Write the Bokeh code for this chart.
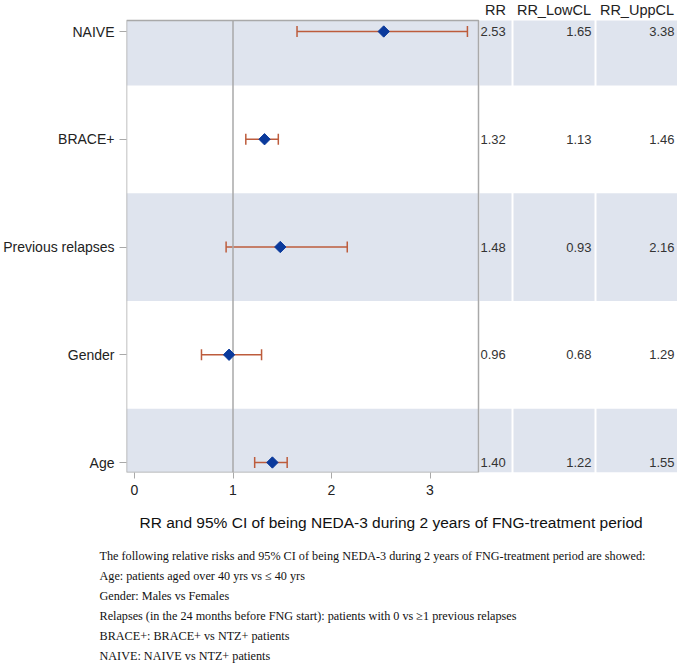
import math
from bokeh.plotting import figure
from bokeh.models import Range1d, FixedTicker, ColumnDataSource, Whisker, TeeHead, Title
from bokeh.core.properties import value
from bokeh.embed import file_html
from bokeh.resources import INLINE

# ---------------- data ----------------
categories = ["NAIVE", "BRACE+", "Previous relapses", "Gender", "Age"]
rr = [2.53, 1.32, 1.48, 0.96, 1.40]
rr_low = [1.65, 1.13, 0.93, 0.68, 1.22]
rr_upp = [3.38, 1.46, 2.16, 1.29, 1.55]
x_ticks = [0, 1, 2, 3]
ref_value = 1
table_headers = ["RR", "RR_LowCL", "RR_UppCL"]
axis_title = "RR and 95% CI of being NEDA-3 during 2 years of FNG-treatment period"
footnotes = [
    "The following relative risks and 95% CI of being NEDA-3 during 2 years of FNG-treatment period are showed:",
    "Age: patients aged over 40 yrs vs \u2264 40 yrs",
    "Gender: Males vs Females",
    "Relapses (in the 24 months before FNG start): patients with 0 vs \u22651 previous relapses",
    "BRACE+: BRACE+ vs NTZ+ patients",
    "NAIVE: NAIVE vs NTZ+ patients",
]

# ---------------- layout helpers (page px -> data) ----------------
W = 677
H = 664
FRAME_L = 126
FRAME_B = 472
X0_PX, X_SCALE = 134.0, 98.5     # page px of x=0, px per unit
Y0_PX, Y_SCALE = 462.0, 107.75   # page px of bottom row, px per row


def xd(px):
    return (px - X0_PX) / X_SCALE


def yd(py):
    return (Y0_PX - py) / Y_SCALE


n = len(categories)
ys = [n - 1 - i for i in range(n)]

BAND = "#dfe4ee"
GRAY = "#a9a9a9"
ERR = "#bd5c3c"
MARK = "#0b3a9c"
SANS = "Liberation Sans"
SERIF = "Liberation Serif"

p = figure(width=W, height=H, output_backend="svg", toolbar_location=None,
           x_range=Range1d(xd(FRAME_L), xd(W)), y_range=Range1d(yd(FRAME_B), yd(0)),
           min_border_left=FRAME_L, min_border_right=0, min_border_top=0,
           min_border_bottom=H - FRAME_B)
p.outline_line_color = None
p.xgrid.visible = False
p.ygrid.visible = False
p.background_fill_color = "white"
p.border_fill_color = "white"

plot_l, plot_r = xd(FRAME_L), xd(478)
plot_b, plot_t = yd(FRAME_B), yd(20)

# bands (alternate rows) in plot region and table columns
col_edges = [(xd(479), xd(511)), (xd(513), xd(594)), (xd(596), xd(677))]
bl, br, bb, bt = [], [], [], []
for i, y in enumerate(ys):
    if i % 2 == 0:
        b = max(y - 0.5, plot_b)
        t = min(y + 0.5, plot_t)
        for (l, r) in [(plot_l, plot_r)] + col_edges:
            bl.append(l); br.append(r); bb.append(b); bt.append(t)
bands = p.quad(left=bl, right=br, bottom=bb, top=bt, fill_color=BAND, line_color=None)
bands.level = "image"

# reference line
p.segment(x0=[ref_value], y0=[plot_b], x1=[ref_value], y1=[plot_t], line_color=GRAY, line_width=1.5)

# frame border of plot region
p.quad(left=[plot_l], right=[plot_r], bottom=[plot_b], top=[plot_t],
       fill_color=None, line_color=GRAY, line_width=1.5)

src = ColumnDataSource(dict(y=ys, rr=rr, low=rr_low, upp=rr_upp,
                            rr_t=[f"{v:.2f}" for v in rr],
                            low_t=[f"{v:.2f}" for v in rr_low],
                            upp_t=[f"{v:.2f}" for v in rr_upp]))

wh = Whisker(source=src, base="y", lower="low", upper="upp", dimension="width",
             line_color=ERR, line_width=1.5,
             lower_head=TeeHead(size=11, line_color=ERR, line_width=1.5),
             upper_head=TeeHead(size=11, line_color=ERR, line_width=1.5))
wh.level = "underlay"
p.add_layout(wh)

p.scatter(x="rr", y="y", source=src, marker="square", angle=math.pi / 4, size=8,
          fill_color=MARK, line_color=MARK)

# table values
tfont = dict(text_font=value(SANS), text_font_size="13px", text_color="#333333",
             text_baseline="middle")
p.text(x=xd(480), y="y", text="rr_t", source=src, text_align="left", **tfont)
p.text(x=xd(591), y="y", text="low_t", source=src, text_align="right", **tfont)
p.text(x=xd(674), y="y", text="upp_t", source=src, text_align="right", **tfont)

# table headers
hx = [(l + r) / 2 for (l, r) in col_edges]
p.text(x=hx, y=[yd(9)] * 3, text=table_headers, text_align="center", text_baseline="middle",
       text_font=value(SANS), text_font_size="14.5px", text_color="#222222")

# axes
p.xaxis.ticker = FixedTicker(ticks=x_ticks)
p.xaxis.axis_line_color = None
p.xaxis.major_tick_in = 0
p.xaxis.major_tick_out = 6
p.xaxis.minor_tick_line_color = None
p.xaxis.major_tick_line_color = GRAY
p.xaxis.major_label_text_font = SANS
p.xaxis.major_label_text_font_size = "14px"
p.xaxis.major_label_text_color = "#222222"
p.xaxis.major_label_standoff = 6

p.yaxis.ticker = FixedTicker(ticks=ys)
p.yaxis.major_label_overrides = {y: c for y, c in zip(ys, categories)}
p.yaxis.axis_line_color = None
p.yaxis.major_tick_in = 0
p.yaxis.major_tick_out = 7
p.yaxis.minor_tick_line_color = None
p.yaxis.major_tick_line_color = GRAY
p.yaxis.major_label_text_font = SANS
p.yaxis.major_label_text_font_size = "14px"
p.yaxis.major_label_text_color = "#222222"
p.yaxis.major_label_standoff = 5

# ---------------- axis title and footnotes below the plot ----------------
p.add_layout(Title(text=axis_title, align="left", offset=13, standoff=28,
                   text_font=SANS, text_font_size="15.5px", text_font_style="normal",
                   text_color="#111111"), "below")
for t in footnotes:
    p.add_layout(Title(text=t, align="left", offset=99 - FRAME_L, standoff=4,
                       text_font=SERIF, text_font_size="12.2px", text_font_style="normal",
                       text_color="#111111"), "below")

open("out.html", "w").write(file_html(p, INLINE))
